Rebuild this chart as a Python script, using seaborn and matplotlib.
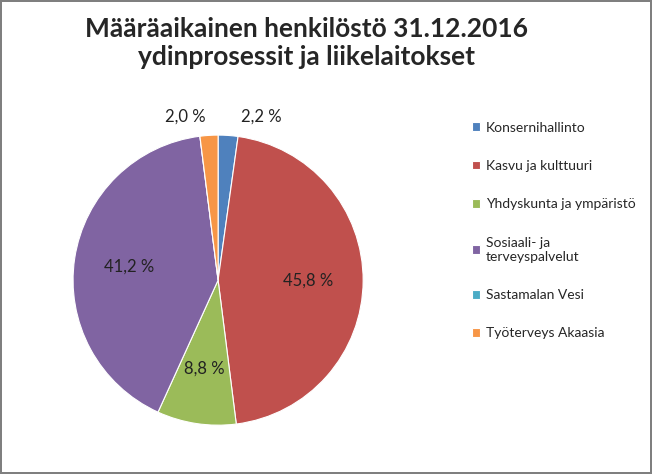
import matplotlib
matplotlib.use("Agg")
import matplotlib.pyplot as plt
import seaborn as sns
import numpy as np

categories = ["Konsernihallinto", "Kasvu ja kulttuuri", "Yhdyskunta ja ympäristö",
              "Sosiaali- ja\nterveyspalvelut", "Sastamalan Vesi", "Työterveys Akaasia"]
values = [2.2, 45.8, 8.8, 41.2, 0.0, 2.0]
colors = ["#4F81BD", "#C0504D", "#9BBB59", "#8064A2", "#4BACC6", "#F79646"]

sns.set_theme(style="white")
plt.rcParams['font.family'] = ['Lato', 'DejaVu Sans']

fig = plt.figure(figsize=(6.52, 4.74), dpi=100)
fig.patch.set_edgecolor("#7f7f7f")
fig.patch.set_linewidth(1.5)
ax = fig.add_axes([0.112, 0.103, 0.445, 0.612])

def fmt(p):
    return "" if p < 0.05 else f"{p:.1f} %".replace(".", ",")

wedges, texts, autotexts = ax.pie(values, colors=colors, startangle=90, counterclock=False,
                                  autopct=fmt, pctdistance=0.62,
                                  wedgeprops=dict(edgecolor="white", linewidth=0.8),
                                  textprops=dict(fontsize=12, color="#222222"))
ax.set_aspect("equal")
ax.set_xlim(-1, 1)
ax.set_ylim(-1, 1)
for w, t, v in zip(wedges, autotexts, values):
    if 0 < v < 5:
        ang = np.deg2rad((w.theta1 + w.theta2) / 2)
        r = 1.1
        t.set_position((r * np.cos(ang) + (0.08 if np.cos(ang) > 0 else -0.02), r * np.sin(ang) + 0.03))
        t.set_ha("left" if np.cos(ang) > 0 else "right")

fig.text(0.47, 0.965, "Määräaikainen henkilöstö 31.12.2016\nydinprosessit ja liikelaitokset",
         ha="center", va="top", fontsize=19, fontweight="bold", linespacing=1.2)

leg = fig.legend(wedges, categories, loc="upper left", bbox_to_anchor=(0.705, 0.77),
                 frameon=False, fontsize=10, handlelength=0.6, handleheight=0.6,
                 labelspacing=1.9, handletextpad=0.4)
fig.savefig("out.png", dpi=100)
